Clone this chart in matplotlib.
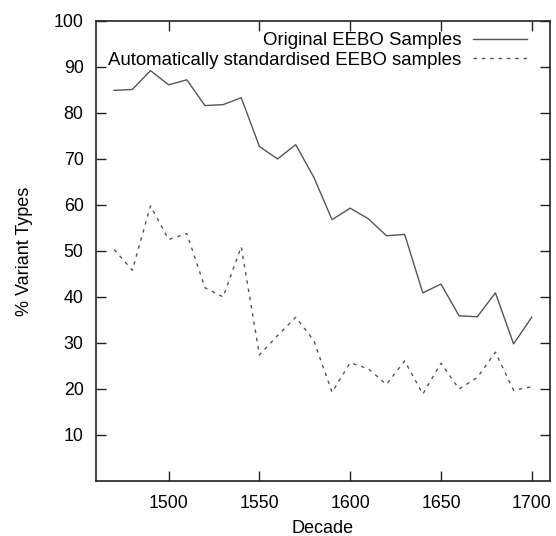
import matplotlib
matplotlib.use("Agg")
import matplotlib.pyplot as plt

plt.rcParams['font.family'] = ['Liberation Sans', 'DejaVu Sans']

decades = [1470, 1480, 1490, 1500, 1510, 1520, 1530, 1540, 1550, 1560, 1570, 1580,
           1590, 1600, 1610, 1620, 1630, 1640, 1650, 1660, 1670, 1680, 1690, 1700]
original = [84.9, 85.1, 89.2, 86.1, 87.2, 81.6, 81.8, 83.3, 72.7, 70.0, 73.1, 66.0,
            56.8, 59.3, 57.0, 53.3, 53.6, 40.9, 42.8, 35.9, 35.7, 40.9, 29.8, 35.6]
standardised = [50.3, 45.8, 59.8, 52.5, 53.8, 42.0, 40.0, 50.9, 27.4, 31.6, 35.6, 30.5,
                19.3, 25.7, 24.4, 21.0, 26.1, 18.9, 25.6, 20.0, 22.5, 28.0, 19.7, 20.5]

fig = plt.figure(figsize=(5.56, 5.36), dpi=100)
ax = fig.add_axes([0.1727, 0.1026, 0.8163, 0.8584])

ax.plot(decades, original, color='#555555', lw=1.0, label='Original EEBO Samples')
ax.plot(decades, standardised, color='#555555', lw=1.0, linestyle=(0, (2.5, 3.5)),
        label='Automatically standardised EEBO samples')

ax.set_xlim(1460, 1710)
ax.set_ylim(0, 100)
ax.set_xticks([1500, 1550, 1600, 1650, 1700])
ax.set_yticks(range(10, 101, 10))
ax.tick_params(direction='in', length=7, width=1, top=True, right=True,
               labelsize=12.8, color='#222222')
ax.tick_params(axis='y', pad=9)
ax.tick_params(axis='x', pad=10)
for s in ax.spines.values():
    s.set_linewidth(1.2)
    s.set_color('#222222')

ax.set_xlabel('Decade', fontsize=13, labelpad=6)
ax.set_ylabel('% Variant Types', fontsize=13, labelpad=15)

ax.legend(loc='upper right', frameon=False, markerfirst=False, fontsize=13.4,
          handlelength=2.9, handletextpad=0.65, labelspacing=0.15,
          borderaxespad=0.2, bbox_to_anchor=(0.975, 1.0))

fig.savefig('out.png', dpi=100)
